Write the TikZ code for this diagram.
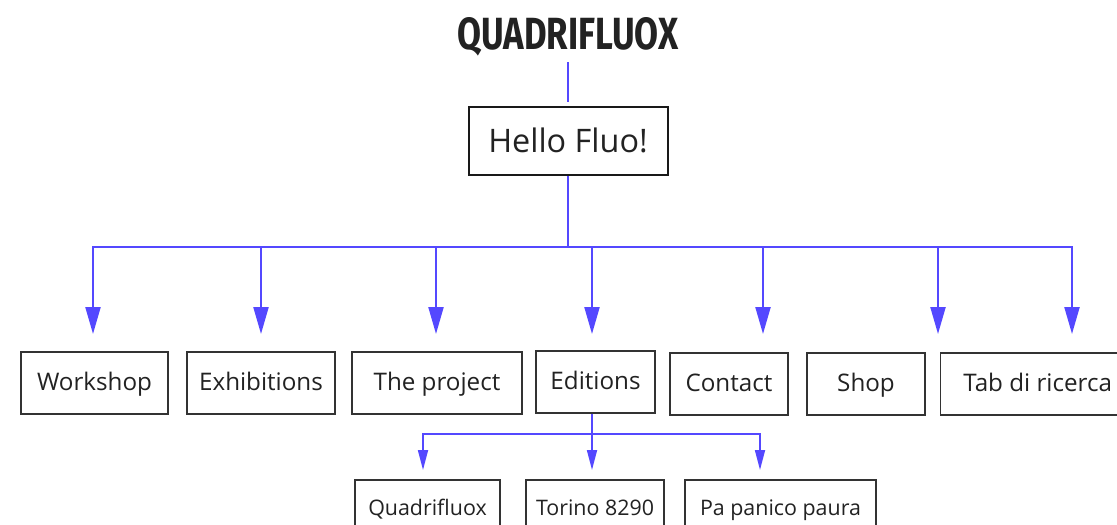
\documentclass[tikz,border=0pt]{standalone}
\usepackage{graphicx}
\usepackage{fontspec}
\setmainfont{Open Sans}
\newfontfamily\titlefont{Fira Sans}
\usetikzlibrary{arrows.meta}
\definecolor{FluoBlue}{RGB}{84,72,255}
\definecolor{InkGrey}{RGB}{34,34,34}
\definecolor{FrameGrey}{RGB}{51,51,51}

\begin{document}
\begin{tikzpicture}[x=1pt, y=-1pt,
  every node/.style={text=InkGrey, inner sep=0pt},
  box/.style={draw=FrameGrey, line width=1.4pt, minimum height=62pt, text height=18pt, text depth=4pt, font=\fontsize{24.2}{28}\selectfont},
  subbox/.style={draw=FrameGrey, line width=1.2pt, minimum height=56pt, text height=15pt, text depth=0pt, font=\fontsize{21.4}{25}\selectfont},
  link/.style={FluoBlue, line width=2.2pt},
  bigarrow/.style={link, -{Triangle[length=27pt, width=15pt]}},
  smallarrow/.style={FluoBlue, line width=1.7pt, -{Triangle[length=20pt, width=10pt]}}]
  \useasboundingbox (0,0) rectangle (1117,525);
  \clip (0,0) rectangle (1117,525);
  \fill[white] (0,0) rectangle (1117,525);

  \node[anchor=south, text depth=0pt, font=\titlefont\bfseries] (title) at (568,50) {\resizebox{221pt}{32pt}{QUADRIFLUOX}};
  \node[box, line width=2pt, draw=black!90, minimum width=199pt, minimum height=68pt, text height=23pt, text depth=1pt, font=\fontsize{32.4}{38}\selectfont] (hello) at (568,141) {Hello Fluo!};

  % first level
  \node[box, minimum width=147pt] (workshop) at (94.5,383) {Workshop};
  \node[box, minimum width=148pt] (exhibitions) at (261,383) {Exhibitions};
  \node[box, minimum width=170pt] (project) at (437,383) {The project};
  \node[box, minimum width=119pt] (editions) at (595.5,382) {Editions};
  \node[box, minimum width=118pt] (contact) at (729,384) {Contact};
  \node[box, minimum width=118pt] (shop) at (866,384) {Shop};
  \node[box, minimum width=194pt, anchor=west] (tab) at (940,384) {Tab di ricerca};

  % editions children
  \node[subbox, minimum width=145pt] (quadri) at (427.5,508) {Quadrifluox};
  \node[subbox, minimum width=138pt] (torino) at (595,508) {Torino 8290};
  \node[subbox, minimum width=191pt] (panico) at (780.5,508) {Pa panico paura};

  \draw[link, shorten <=12pt, shorten >=4pt] (title.south) -- (hello.north);
  \coordinate (hub) at (568,247);
  \draw[link] (hello.south) -- (hub);
  \foreach \name/\tipx in {workshop/93, exhibitions/261, project/436, editions/592, contact/763, shop/938, tab/1072} {
    \coordinate (\name-tip) at (\tipx,334);
    \draw[bigarrow] (hub) -| (\name-tip);
  }

  \coordinate (subhub) at (592,434);
  \draw[link, line width=1.7pt] (editions.south -| subhub) -- (subhub);
  \foreach \name/\tipx in {quadri/423, torino/592, panico/760} {
    \coordinate (\name-tip) at (\tipx,470);
    \draw[smallarrow] (subhub) -| (\name-tip);
  }
\end{tikzpicture}
\end{document}
